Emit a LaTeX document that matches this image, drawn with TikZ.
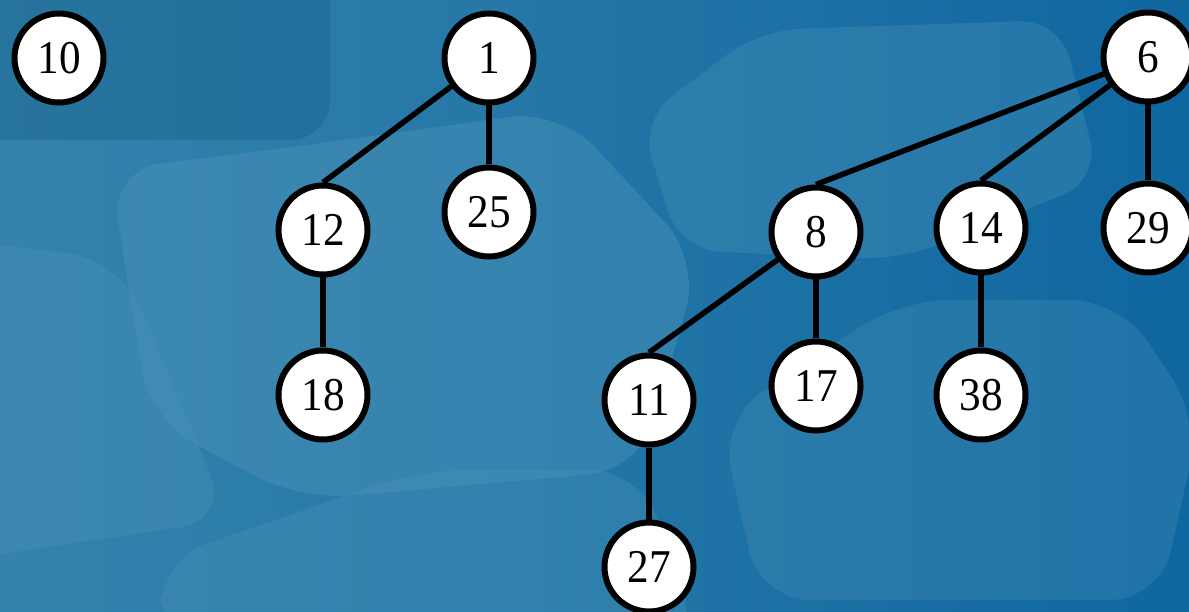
\documentclass[tikz,border=0pt]{standalone}
\usepackage{fontspec}
\setmainfont{Liberation Serif}
\newcommand{\heaplabel}[1]{\scalebox{0.92}[1]{#1}}
\begin{document}
\begin{tikzpicture}[x=1pt,y=-1pt,
  heapnode/.style={circle,draw=black,line width=6pt,fill=white,minimum size=89pt,inner sep=0pt,font=\fontsize{47}{52}\selectfont},
  link/.style={line width=5.5pt,draw=black}]
\definecolor{bgL}{HTML}{3583AC}
\definecolor{bgR}{HTML}{0F67A0}
\definecolor{keyL}{HTML}{4A93B9}
\definecolor{keyD}{HTML}{1B6690}
\useasboundingbox (0,0) rectangle (1189,612);
\shade[left color=bgL,right color=bgR] (0,0) rectangle (1189,612);
% faint keyboard key shapes
\fill[keyD,opacity=0.5,rounded corners=40pt] (-40,-60) rectangle (330,140);
\fill[keyL,opacity=0.45,rounded corners=50pt] (110,170) -- (270,150) -- (560,110) -- (700,260) -- (640,470) -- (300,500) -- (150,420) -- cycle;
\fill[keyL,opacity=0.35,rounded corners=40pt] (640,120) -- (760,30) -- (1060,20) -- (1100,180) -- (900,260) -- (680,250) -- cycle;
\fill[keyL,opacity=0.35,rounded corners=50pt] (-40,240) -- (120,260) -- (230,520) -- (-40,560) -- cycle;
\fill[keyL,opacity=0.35,rounded corners=50pt] (160,560) -- (420,470) -- (640,470) -- (700,640) -- (160,640) -- cycle;
\fill[keyL,opacity=0.3,rounded corners=50pt] (720,420) -- (900,300) -- (1120,300) -- (1200,420) -- (1160,600) -- (760,600) -- cycle;

\node[heapnode] (n10) at (59,58) {\heaplabel{10}};
\node[heapnode] (n1) at (489,58) {\heaplabel{1}};
\node[heapnode] (n6) at (1148,57) {\heaplabel{6}};
\node[heapnode] (n12) at (323,230) {\heaplabel{12}};
\node[heapnode] (n25) at (489,212) {\heaplabel{25}};
\node[heapnode] (n8) at (816,232) {\heaplabel{8}};
\node[heapnode] (n14) at (981,228) {\heaplabel{14}};
\node[heapnode] (n29) at (1148,228) {\heaplabel{29}};
\node[heapnode] (n18) at (323,395) {\heaplabel{18}};
\node[heapnode] (n11) at (649,400) {\heaplabel{11}};
\node[heapnode] (n17) at (816,386) {\heaplabel{17}};
\node[heapnode] (n38) at (981,395) {\heaplabel{38}};
\node[heapnode] (n27) at (649,567) {\heaplabel{27}};

\draw[link] (n1) -- (n12.north);
\draw[link] (n1) -- (n25);
\draw[link] (n6) -- (n8.north);
\draw[link] (n6) -- (n14.north);
\draw[link] (n6) -- (n29);
\draw[link] (n12) -- (n18);
\draw[link] (n8) -- (n11.north);
\draw[link] (n8) -- (n17);
\draw[link] (n14) -- (n38);
\draw[link] (n11) -- (n27);
\end{tikzpicture}
\end{document}
